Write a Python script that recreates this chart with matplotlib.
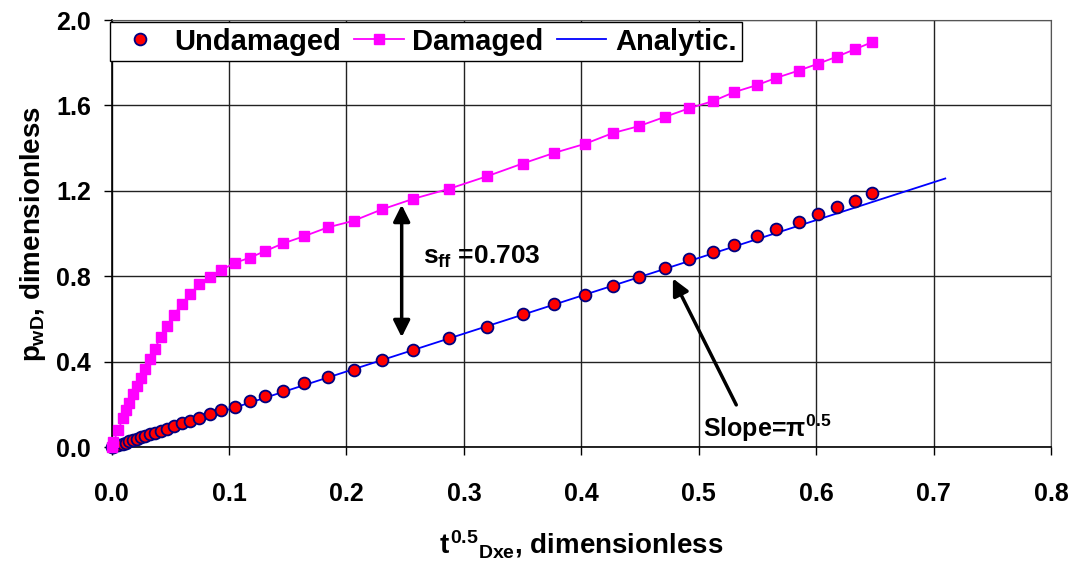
import matplotlib
matplotlib.use("Agg")
import matplotlib.pyplot as plt
from matplotlib.ticker import FormatStrFormatter, MultipleLocator

plt.rcParams["font.family"] = ["Liberation Sans", "DejaVu Sans"]
plt.rcParams["font.weight"] = "bold"
plt.rcParams["mathtext.fontset"] = "custom"
plt.rcParams["mathtext.rm"] = "Liberation Sans:bold"
plt.rcParams["mathtext.it"] = "Liberation Sans:bold"
plt.rcParams["mathtext.bf"] = "Liberation Sans:bold"
plt.rcParams["mathtext.sf"] = "Liberation Sans:bold"

# sqrt(t_Dxe) sample points, shared by both series
t_sqrt = [0.0, 0.0014, 0.0056, 0.0094, 0.0122, 0.015, 0.0179, 0.0213, 0.0247,
          0.0284, 0.0326, 0.0369, 0.0417, 0.047, 0.053, 0.0596, 0.0667, 0.0746,
          0.084, 0.093, 0.105, 0.118, 0.131, 0.146, 0.164, 0.184, 0.206, 0.230,
          0.257, 0.287, 0.320, 0.350, 0.377, 0.403, 0.427, 0.449, 0.471, 0.492,
          0.512, 0.530, 0.550, 0.566, 0.585, 0.602, 0.618, 0.633, 0.648]

p_undamaged = [0.0, 0.002, 0.009, 0.015, 0.021, 0.028, 0.034, 0.040, 0.046,
               0.052, 0.060, 0.068, 0.077, 0.087, 0.098, 0.112, 0.121, 0.138,
               0.155, 0.174, 0.190, 0.216, 0.238, 0.264, 0.299, 0.330, 0.361,
               0.408, 0.455, 0.512, 0.564, 0.622, 0.670, 0.712, 0.754, 0.795,
               0.837, 0.879, 0.915, 0.948, 0.990, 1.021, 1.054, 1.090, 1.123,
               1.154, 1.188]

p_damaged = [0.0, 0.025, 0.080, 0.135, 0.172, 0.208, 0.247, 0.286, 0.323,
             0.367, 0.412, 0.461, 0.518, 0.569, 0.619, 0.670, 0.716, 0.762,
             0.795, 0.829, 0.863, 0.888, 0.919, 0.954, 0.988, 1.029, 1.060,
             1.113, 1.163, 1.209, 1.269, 1.328, 1.378, 1.420, 1.471, 1.503,
             1.546, 1.587, 1.620, 1.662, 1.696, 1.729, 1.763, 1.796, 1.829,
             1.863, 1.897]

# analytic line p = sqrt(pi) * t^0.5, end points
analytic_x = [0.0, 0.71]
analytic_y = [0.0, 1.258]

fig = plt.figure(figsize=(10.75, 5.67), dpi=100)
ax = fig.add_axes([0.1039, 0.2113, 0.8737, 0.7534])

ax.plot(analytic_x, analytic_y, color="#0000FF", lw=1.3, zorder=3, label="Analytic.")
ax.plot(t_sqrt, p_undamaged, ls="none", marker="o", ms=8.5, mfc="#FF0000",
        mec="#000080", mew=1.3, zorder=4, label="Undamaged", clip_on=False)
ax.plot(t_sqrt, p_damaged, color="#FF00FF", lw=1.3, marker="s", ms=6.5,
        mfc="#FF00FF", mec="#FF00FF", zorder=5, label="Damaged", clip_on=False)

ax.set_xlim(0, 0.8)
ax.set_ylim(0, 2.0)
ax.xaxis.set_major_locator(MultipleLocator(0.1))
ax.yaxis.set_major_locator(MultipleLocator(0.4))
ax.xaxis.set_major_formatter(FormatStrFormatter("%.1f"))
ax.yaxis.set_major_formatter(FormatStrFormatter("%.1f"))
ax.tick_params(axis="both", direction="out", length=6, width=1, labelsize=18)
ax.tick_params(axis="x", pad=19)
ax.tick_params(axis="y", pad=9)
ax.grid(True, color="#222222", lw=1.0)
ax.set_axisbelow(True)
for side in ("top", "right"):
    ax.spines[side].set_color("#555555")
for side in ("left", "bottom"):
    ax.spines[side].set_color("black")
    ax.spines[side].set_linewidth(1.2)

ax.set_xlabel(r"$t^{0.5}{}_{Dxe}$, dimensionless", fontsize=20, fontweight="bold")
ax.xaxis.set_label_coords(0.5, -0.19)
ax.set_ylabel(r"$p_{wD}$, dimensionless", fontsize=20, fontweight="bold")
ax.yaxis.set_label_coords(-0.068, 0.5)

handles, labels = ax.get_legend_handles_labels()
order = [1, 2, 0]
leg = ax.legend([handles[i] for i in order], [labels[i] for i in order],
                loc="upper left", bbox_to_anchor=(-0.002, 0.996), borderaxespad=0,
                ncol=3, fontsize=21, frameon=True, fancybox=False,
                edgecolor="black", framealpha=1, handlelength=1.7,
                handletextpad=0.3, columnspacing=0.45, borderpad=0.2)
leg.get_frame().set_linewidth(1.0)
leg.set_zorder(10)

# s_ff double arrow between the two curves
ax.annotate("", xy=(0.247, 1.135), xytext=(0.247, 0.515),
            arrowprops=dict(arrowstyle="<|-|>", color="black", lw=2.5,
                            mutation_scale=25, shrinkA=0, shrinkB=0))
ax.text(0.265, 0.89, r"$s_{ff}$ =0.703", fontsize=19, fontweight="bold",
        va="center", ha="left")

# slope arrow
ax.annotate("", xy=(0.478, 0.79), xytext=(0.532, 0.198),
            arrowprops=dict(arrowstyle="-|>", color="black", lw=2.5,
                            mutation_scale=25, shrinkA=0, shrinkB=0))
ax.text(0.504, 0.049, r"Slope=$\pi^{0.5}$", fontsize=18, fontweight="bold",
        va="baseline", ha="left")

fig.savefig("out.png", dpi=100)
